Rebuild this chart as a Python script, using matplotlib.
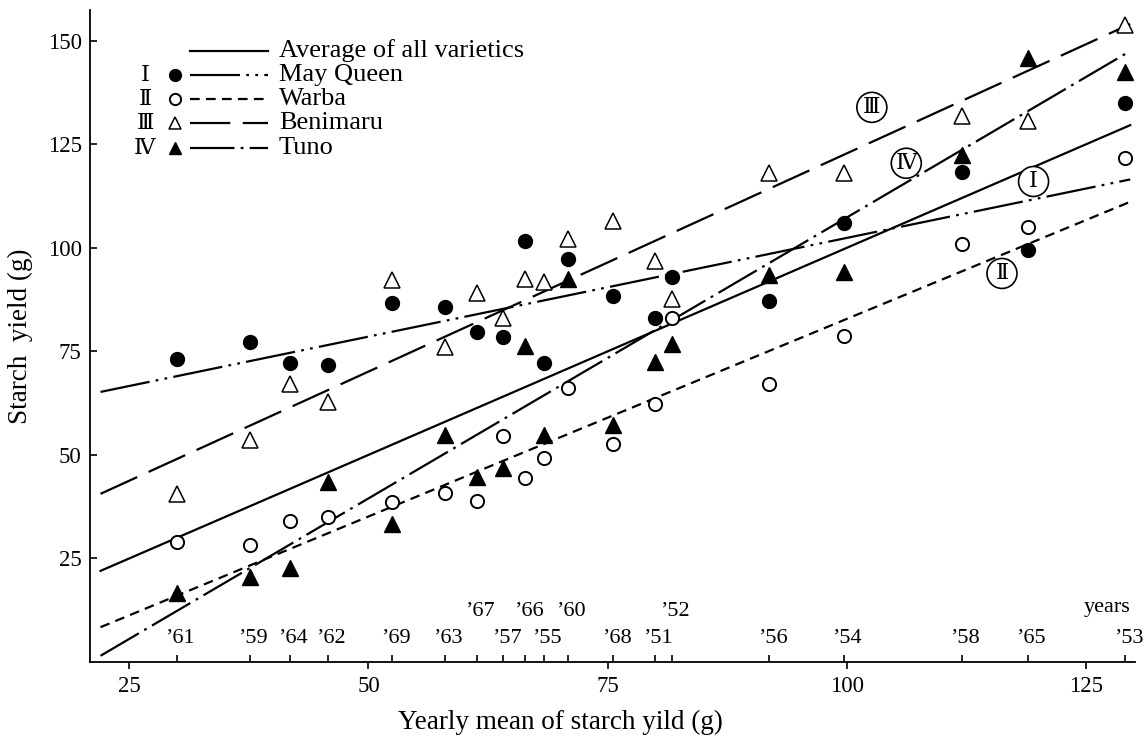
import numpy as np
import matplotlib.pyplot as plt
from matplotlib.lines import Line2D

plt.rcParams['font.family'] = ['Liberation Serif', 'DejaVu Serif']
plt.rcParams['lines.scale_dashes'] = False

# years and their yearly mean starch yield (x position of each year)
years = ["61", "59", "64", "62", "69", "63", "67", "57", "66", "55",
         "60", "68", "51", "52", "56", "54", "58", "65", "53"]
year_mean = [30.0, 37.6, 41.8, 45.8, 52.5, 58.0, 61.3, 64.1, 66.4, 68.3,
             70.8, 75.6, 79.9, 81.75, 91.9, 99.7, 112.0, 118.9, 129.1]
upper_row = ["67", "66", "60", "52"]

may_queen = [73.1, 77.2, 72.1, 71.7, 86.7, 85.6, 79.6, 78.5, 101.6, 72.3,
             97.2, 88.4, 83.0, 93.0, 87.2, 106.1, 118.2, 99.5, 135.0]
warba = [28.9, 28.2, 34.1, 34.9, 38.6, 40.9, 38.9, 54.6, 44.3, 49.2,
         66.1, 52.6, 62.3, 83.0, 67.0, 78.8, 100.9, 105.1, 121.6]
benimaru = [40.5, 53.6, 67.0, 62.7, 92.2, 76.1, 89.0, 83.0, 92.5, 91.8,
            102.0, 106.5, 96.7, 87.6, 118.0, 118.0, 131.9, 130.5, 153.8]
tuno = [16.7, 20.4, 22.6, 43.5, 33.3, 54.8, 44.7, 46.8, 76.3, 54.8,
        92.5, 57.1, 72.4, 76.8, 93.4, 94.2, 122.4, 145.8, 142.4]

# trend lines as drawn in the figure: value at the two ends
line_x = [22.0, 129.6]
avg_line = [22.0, 129.6]
mq_line = [65.2, 116.5]
warba_line = [8.4, 111.1]
beni_line = [40.6, 154.0]
tuno_line = [1.5, 147.5]

# circled numerals beside the lines
tag_text = ["Ⅰ", "Ⅱ", "Ⅲ", "Ⅳ"]
tag_x = [119.5, 116.2, 102.6, 106.2]
tag_y = [116.0, 93.8, 133.9, 120.4]

W, H = 1143, 739
fig = plt.figure(figsize=(W / 100, H / 100), dpi=100)
ax = fig.add_axes([90 / W, 1 - 662 / H, 1045 / W, 652 / H])

lw = 1.6
styles = {
    'avg': '-',
    'mq': (0, (36, 4.5, 2, 4.5, 2, 4.5)),
    'warba': (0, (7, 4.5)),
    'beni': (0, (29, 9)),
    'tuno': (0, (32, 4.5, 2, 4.5)),
}
markers = {
    'mq': dict(marker='o', ms=10, mfc='black', mec='black', mew=1.0),
    'warba': dict(marker='o', ms=9.5, mfc='white', mec='black', mew=1.4),
    'beni': dict(marker='^', ms=11, mfc='white', mec='black', mew=1.1),
    'tuno': dict(marker='^', ms=11, mfc='black', mec='black', mew=1.0),
}

ax.plot(line_x, avg_line, color='black', lw=lw, ls=styles['avg'])
for key, fit, vals in [('mq', mq_line, may_queen), ('warba', warba_line, warba),
                       ('beni', beni_line, benimaru), ('tuno', tuno_line, tuno)]:
    ax.plot(line_x, fit, color='black', lw=lw, ls=styles[key])
    ax.plot(year_mean, vals, ls='none', zorder=4, **markers[key])

for t, x, y in zip(tag_text, tag_x, tag_y):
    ax.text(x, y, t, ha='center', va='center', fontsize=16,
            family=['DejaVu Serif'], zorder=5,
            bbox=dict(boxstyle='circle,pad=0.18', fc='white', ec='black', lw=1.2))

ax.set_xlim(20.9, 130.1)
ax.set_ylim(0, 157.4)
ax.set_xticks([25, 50, 75, 100, 125])
ax.set_xticks(year_mean, minor=True)
ax.set_yticks([25, 50, 75, 100, 125, 150])
ax.tick_params(axis='x', which='major', direction='out', length=5, width=1.2,
               labelsize=16.5, pad=5)
ax.tick_params(axis='x', which='minor', direction='in', length=5, width=1.2)
ax.tick_params(axis='y', direction='in', length=5, width=1.2, labelsize=16.5, pad=6)
for s in ['top', 'right']:
    ax.spines[s].set_visible(False)
for s in ['left', 'bottom']:
    ax.spines[s].set_linewidth(1.3)

for yr, xm in zip(years, year_mean):
    off = 41 if yr in upper_row else 14
    ax.annotate('\u2019' + yr, xy=(xm, 0), xytext=(3, off), textcoords='offset pixels',
                ha='center', va='bottom', fontsize=16)
fig.text(1130 / W, 1 - 612 / H, 'years', ha='right', va='baseline', fontsize=16)

ax.set_xlabel('Yearly mean of starch yild (g)', fontsize=19.5)
ax.xaxis.set_label_coords(0.45, -(722 - 662) / 652)
ax.xaxis.label.set_va('center')
ax.set_ylabel('Starch  yield (g)', fontsize=19.5)
ax.yaxis.set_label_coords((20 - 90) / 1045, 0.5)
ax.yaxis.label.set_va('center')

# legend drawn by hand
leg_names = ['Average of all varietics', 'May Queen', 'Warba', 'Benimaru', 'Tuno']
leg_keys = ['avg', 'mq', 'warba', 'beni', 'tuno']
leg_nums = ['', 'Ⅰ', 'Ⅱ', 'Ⅲ', 'Ⅳ']
row_y = [51, 75, 99, 123, 148]
for name, key, num, ry in zip(leg_names, leg_keys, leg_nums, row_y):
    fy = 1 - ry / H
    fig.add_artist(Line2D([190 / W, 268 / W], [fy, fy], color='black', lw=lw,
                          ls=styles[key], transform=fig.transFigure))
    if key in markers:
        m = dict(markers[key])
        m['ms'] = m['ms'] * 0.85
        fig.add_artist(Line2D([175 / W], [fy], ls='none', transform=fig.transFigure, **m))
        fig.text(145 / W, fy, num, ha='center', va='center', fontsize=16,
                 family=['DejaVu Serif'])
    fig.text(279 / W, fy, name, ha='left', va='center', fontsize=19)

fig.savefig('out.png', dpi=100, facecolor='white')
